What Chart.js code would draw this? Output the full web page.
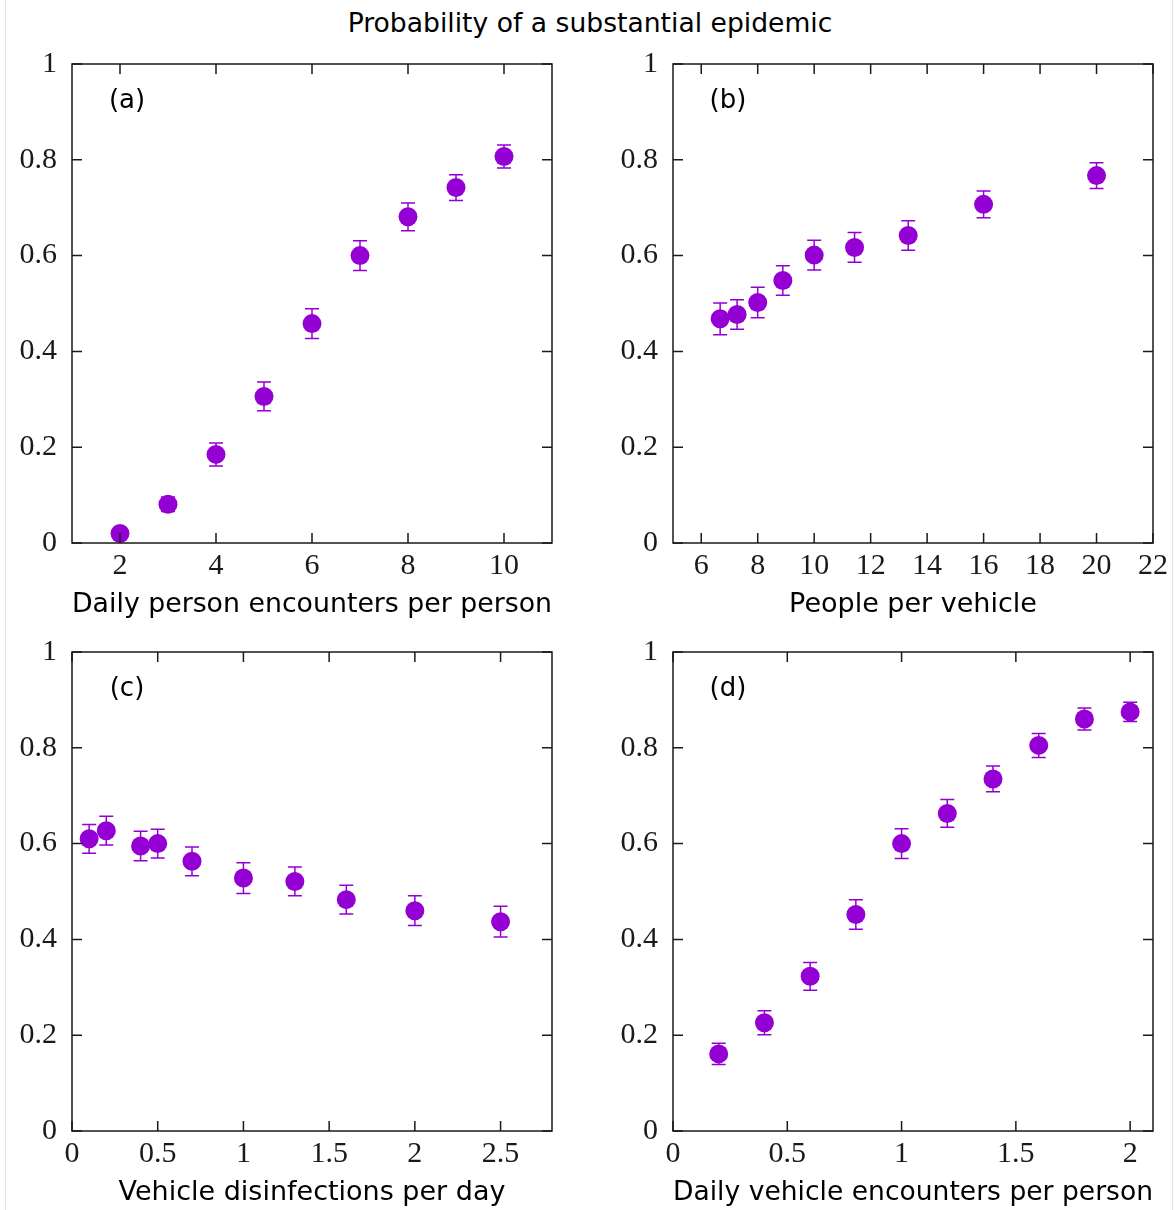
<!DOCTYPE html>
<html>
<head>
<meta charset="utf-8">
<script src="https://cdn.jsdelivr.net/npm/chart.js@4.4.1/dist/chart.umd.min.js"></script>
<style>
  html, body { margin: 0; padding: 0; background: #fff; }
  #page { position: relative; width: 1175px; height: 1210px; overflow: hidden; }
  #edge { position: absolute; left: 5px; top: 0; width: 1166px; height: 1210px; border-left: 1px solid #e2e2e2; border-right: 1px solid #e2e2e2; }
  #title { position: absolute; left: 0; top: 0; width: 1180px; height: 46px; line-height: 46px; text-align: center;
           font-family: "DejaVu Sans", sans-serif; font-size: 26.6px; color: #000; }
  canvas { position: absolute; }
</style>
</head>
<body>
<div id="page">
  <div id="edge"></div>
  <div id="title">Probability of a substantial epidemic</div>
  <canvas id="chartA" width="601" height="597" style="left:0;top:31px"></canvas>
  <canvas id="chartB" width="574" height="597" style="left:601px;top:31px"></canvas>
  <canvas id="chartC" width="601" height="591" style="left:0;top:619px"></canvas>
  <canvas id="chartD" width="574" height="591" style="left:601px;top:619px"></canvas>
</div>
<script>
// ---------- data ----------
const yTicks = [0, 0.2, 0.4, 0.6, 0.8, 1];

// (a) daily person encounters per person
const encountersA = [2, 3, 4, 5, 6, 7, 8, 9, 10];
const probA = [0.02, 0.081, 0.185, 0.306, 0.458, 0.6, 0.681, 0.742, 0.807];
const errA = [0.008, 0.015, 0.024, 0.03, 0.031, 0.031, 0.029, 0.027, 0.024];
const xTicksA = [2, 4, 6, 8, 10];

// (b) people per vehicle
const peopleB = [6.67, 7.27, 8, 8.89, 10, 11.43, 13.33, 16, 20];
const probB = [0.468, 0.477, 0.502, 0.548, 0.601, 0.617, 0.642, 0.707, 0.767];
const errB = [0.033, 0.031, 0.032, 0.031, 0.031, 0.031, 0.031, 0.028, 0.027];
const xTicksB = [6, 8, 10, 12, 14, 16, 18, 20, 22];

// (c) vehicle disinfections per day
const disinfC = [0.1, 0.2, 0.4, 0.5, 0.7, 1, 1.3, 1.6, 2, 2.5];
const probC = [0.61, 0.627, 0.595, 0.6, 0.563, 0.528, 0.521, 0.483, 0.46, 0.437];
const errC = [0.03, 0.03, 0.031, 0.03, 0.03, 0.032, 0.03, 0.03, 0.031, 0.032];
const xTicksC = [0, 0.5, 1, 1.5, 2, 2.5];

// (d) daily vehicle encounters per person
const vehEncD = [0.2, 0.4, 0.6, 0.8, 1, 1.2, 1.4, 1.6, 1.8, 2];
const probD = [0.161, 0.226, 0.323, 0.452, 0.6, 0.663, 0.735, 0.805, 0.86, 0.875];
const errD = [0.022, 0.025, 0.029, 0.031, 0.031, 0.029, 0.027, 0.025, 0.023, 0.02];
const xTicksD = [0, 0.5, 1, 1.5, 2];

const PURPLE = '#9400d3';
const INK = '#1a1a1a';
const tickFont = { family: '"Liberation Serif", "Times New Roman", serif', size: 30 };
const titleFont = { family: '"DejaVu Sans", sans-serif', size: 27 };

// frame, inward ticks, error bars and panel letter
const panelFrame = {
  id: 'panelFrame',
  beforeDatasetsDraw(chart) {
    const { ctx, scales: { x, y } } = chart;
    const ds = chart.data.datasets[0];
    ctx.save();
    ctx.strokeStyle = PURPLE;
    ctx.lineWidth = 1.5;
    ds.data.forEach((p, i) => {
      const px = x.getPixelForValue(p.x);
      const lo = y.getPixelForValue(p.y - ds.errors[i]);
      const hi = y.getPixelForValue(p.y + ds.errors[i]);
      ctx.beginPath();
      ctx.moveTo(px, lo); ctx.lineTo(px, hi);
      ctx.moveTo(px - 7, lo); ctx.lineTo(px + 7, lo);
      ctx.moveTo(px - 7, hi); ctx.lineTo(px + 7, hi);
      ctx.stroke();
    });
    ctx.restore();
  },
  afterDraw(chart, args, opts) {
    const { ctx, chartArea: a, scales: { x, y } } = chart;
    ctx.save();
    ctx.strokeStyle = INK;
    ctx.lineWidth = 1.5;
    ctx.beginPath();
    x.ticks.forEach(t => {
      const px = x.getPixelForValue(t.value);
      ctx.moveTo(px, a.bottom); ctx.lineTo(px, a.bottom - 10);
      ctx.moveTo(px, a.top); ctx.lineTo(px, a.top + 10);
    });
    y.ticks.forEach(t => {
      const py = y.getPixelForValue(t.value);
      ctx.moveTo(a.left, py); ctx.lineTo(a.left + 10, py);
      ctx.moveTo(a.right, py); ctx.lineTo(a.right - 10, py);
    });
    ctx.stroke();
    ctx.strokeRect(a.left, a.top, a.right - a.left, a.bottom - a.top);
    ctx.fillStyle = '#000';
    ctx.font = '26px "DejaVu Sans", sans-serif';
    ctx.textAlign = 'center';
    ctx.textBaseline = 'middle';
    ctx.fillText(opts.label, a.left + 55, a.top + 37);
    ctx.restore();
  }
};

function makePanel(id, p) {
  new Chart(document.getElementById(id), {
    type: 'scatter',
    data: {
      datasets: [{
        data: p.xs.map((v, i) => ({ x: v, y: p.ys[i] })),
        errors: p.errs,
        pointRadius: 9.5,
        pointHoverRadius: 9.5,
        backgroundColor: PURPLE,
        borderWidth: 0
      }]
    },
    options: {
      responsive: false,
      animation: false,
      events: [],
      layout: { padding: { top: 0, right: p.padRight, bottom: p.padBottom, left: 0 } },
      plugins: {
        legend: { display: false },
        tooltip: { enabled: false },
        panelFrame: { label: p.label }
      },
      scales: {
        x: {
          type: 'linear', min: p.xMin, max: p.xMax,
          afterBuildTicks: s => { s.ticks = p.xTicks.map(v => ({ value: v })); },
          afterFit: s => { s.height = 78; },
          grid: { display: false, drawTicks: false },
          border: { display: false },
          ticks: { font: tickFont, color: INK, padding: 5, maxRotation: 0, autoSkip: false, callback: v => String(v) },
          title: { display: true, text: p.xTitle, font: titleFont, color: '#000', padding: 0 }
        },
        y: {
          type: 'linear', min: 0, max: 1,
          afterBuildTicks: s => { s.ticks = yTicks.map(v => ({ value: v })); },
          afterFit: s => { s.width = 72; },
          grid: { display: false, drawTicks: false },
          border: { display: false },
          ticks: { font: tickFont, color: INK, padding: 15, autoSkip: false, callback: v => String(v) }
        }
      }
    },
    plugins: [panelFrame]
  });
}

makePanel('chartA', { xs: encountersA, ys: probA, errs: errA, xTicks: xTicksA, xMin: 1, xMax: 11,
  xTitle: 'Daily person encounters per person', label: '(a)', padRight: 49, padBottom: 7 });
makePanel('chartB', { xs: peopleB, ys: probB, errs: errB, xTicks: xTicksB, xMin: 5, xMax: 22,
  xTitle: 'People per vehicle', label: '(b)', padRight: 22, padBottom: 7 });
makePanel('chartC', { xs: disinfC, ys: probC, errs: errC, xTicks: xTicksC, xMin: 0, xMax: 2.8,
  xTitle: 'Vehicle disinfections per day', label: '(c)', padRight: 49, padBottom: 1 });
makePanel('chartD', { xs: vehEncD, ys: probD, errs: errD, xTicks: xTicksD, xMin: 0, xMax: 2.1,
  xTitle: 'Daily vehicle encounters per person', label: '(d)', padRight: 22, padBottom: 1 });
</script>
</body>
</html>
